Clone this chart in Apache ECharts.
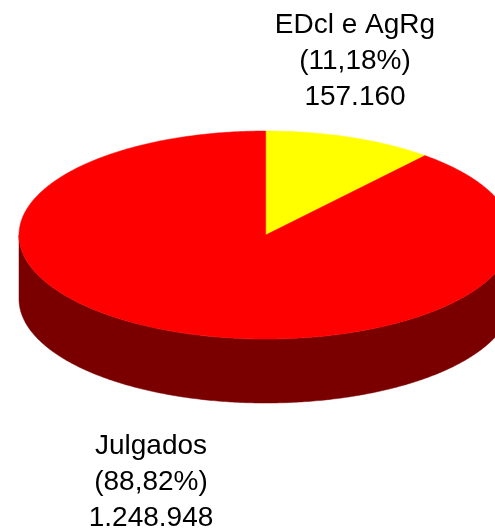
<!DOCTYPE html>
<html>
<head>
<meta charset="utf-8">
<script src="https://cdn.jsdelivr.net/npm/echarts@6/dist/echarts.min.js"></script>
<style>
html,body{margin:0;padding:0;background:#fff;}
#chart{width:495px;height:529px;}
</style>
</head>
<body>
<div id="chart"></div>
<script>
// ---- data ----
const categories = ['EDcl e AgRg', 'Julgados'];
const values = [157160, 1248948];
const percentLabels = ['11,18%', '88,82%'];
const valueLabels = ['157.160', '1.248.948'];

// ---- style / layout ----
const topColors = ['#ffff00', '#ff0000'];
const sideColors = ['#7a7a00', '#7a0000'];
const geo = { cx: 265.7, cy: 235, rx: 246.7, ry: 104, depth: 64 };
const labelPos = [[355, 61], [151, 482]];
const FONT = "'Liberation Sans', Arial, Helvetica, sans-serif";

const total = values.reduce((a, b) => a + b, 0);
function pt(t, dy) {
  return [geo.cx + geo.rx * Math.sin(t), geo.cy - geo.ry * Math.cos(t) + (dy || 0)];
}
function arcPts(a0, a1, dy) {
  const n = Math.max(2, Math.ceil(Math.abs(a1 - a0) / 0.01));
  const out = [];
  for (let k = 0; k <= n; k++) out.push(pt(a0 + (a1 - a0) * k / n, dy));
  return out;
}

function renderItem(params, api) {
  const i = params.dataIndex;
  let before = 0;
  for (let k = 0; k < i; k++) before += values[k];
  const a0 = before / total * Math.PI * 2;
  const a1 = a0 + api.value(0) / total * Math.PI * 2;
  const children = [];
  // side (front half only: angles between PI/2 and 3PI/2)
  const s = Math.max(a0, Math.PI / 2), e = Math.min(a1, Math.PI * 1.5);
  if (e > s) {
    const topEdge = arcPts(s, e, 0);
    const botEdge = arcPts(e, s, geo.depth);
    children.push({
      type: 'polygon', z2: 1,
      shape: { points: topEdge.concat(botEdge) },
      style: { fill: sideColors[i], stroke: sideColors[i], lineWidth: 0.5 }
    });
  }
  // top face
  const topPts = [[geo.cx, geo.cy]].concat(arcPts(a0, a1, 0));
  children.push({
    type: 'polygon', z2: 10,
    shape: { points: topPts },
    style: { fill: topColors[i], stroke: topColors[i], lineWidth: 0.5 }
  });
  // label
  children.push({
    type: 'text', z2: 20,
    x: labelPos[i][0], y: labelPos[i][1],
    style: {
      text: categories[i] + '\n(' + percentLabels[i] + ')\n' + valueLabels[i],
      fill: '#000', font: '28px ' + FONT, lineHeight: 36,
      align: 'center', verticalAlign: 'middle'
    }
  });
  return { type: 'group', children: children };
}

const chart = echarts.init(document.getElementById('chart'), null, { renderer: 'canvas' });
chart.setOption({
  animation: false,
  backgroundColor: '#ffffff',
  series: [{
    type: 'custom',
    coordinateSystem: 'none',
    renderItem: renderItem,
    data: values
  }]
});
</script>
</body>
</html>
